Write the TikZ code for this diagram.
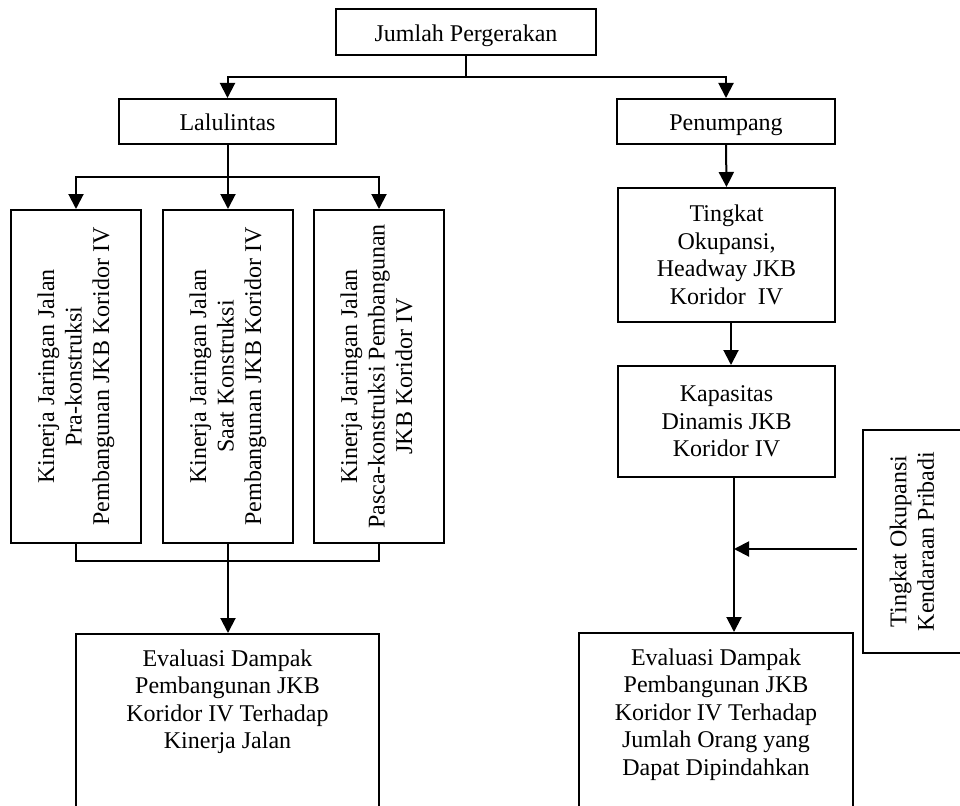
\documentclass[tikz,border=0pt]{standalone}
\usepackage{graphicx}
\usepackage{fontspec}
\setmainfont{Liberation Serif}
\usetikzlibrary{arrows.meta}
\begin{document}
\begin{tikzpicture}[x=1pt,y=-1pt,
  box/.style={draw, line width=2pt, inner sep=0pt, align=center,
    font=\fontsize{24}{27.5}\selectfont},
  txt/.style={inner sep=0pt, align=center, font=\fontsize{24}{27.5}\selectfont},
  conn/.style={line width=2pt},
  arr/.style={conn, -{Triangle[length=15pt,width=15pt]}}]
\useasboundingbox (0,0) rectangle (960,805);
\clip (0,0) rectangle (960,805);

% top level
\node[box, minimum width=260, minimum height=46, text depth=0pt] (top) at (466,32) {\raisebox{-2pt}{Jumlah Pergerakan}};
\node[box, minimum width=217, minimum height=45, text depth=0pt] (lal) at (227.5,121.5) {\raisebox{-2pt}{Lalulintas}};
\node[box, minimum width=218, minimum height=45, text depth=0pt] (pen) at (726,121.5) {\raisebox{-2pt}{Penumpang}};

% three vertical boxes
\node[box, minimum width=130, minimum height=333] (k1) at (76,376.5)
  {\rotatebox{90}{\begin{tabular}{@{}c@{}}Kinerja Jaringan Jalan\\Pra-konstruksi\\Pembangunan JKB Koridor IV\end{tabular}}};
\node[box, minimum width=130, minimum height=333] (k2) at (228,376.5)
  {\rotatebox{90}{\begin{tabular}{@{}c@{}}Kinerja Jaringan Jalan\\Saat Konstruksi\\Pembangunan JKB Koridor IV\end{tabular}}};
\node[box, minimum width=130, minimum height=333] (k3) at (379,376.5)
  {\rotatebox{90}{\begin{tabular}{@{}c@{}}Kinerja Jaringan Jalan\\Pasca-konstruksi Pembangunan\\JKB Koridor IV\end{tabular}}};

% right column
\node[box, minimum width=217, minimum height=134] (ting) at (726.5,255)
  {Tingkat\\Okupansi,\\Headway JKB\\Koridor\ \ IV};
\node[box, minimum width=217, minimum height=111] (kap) at (726.5,421.5)
  {Kapasitas\\Dinamis JKB\\Koridor IV};
\node[box, minimum width=103, minimum height=223] (side) at (914.5,541.5)
  {\rotatebox{90}{\begin{tabular}{@{}c@{}}Tingkat Okupansi\\Kendaraan Pribadi\end{tabular}}};

% bottom boxes (run off the page)
\node[box, minimum width=303, minimum height=220, anchor=north] (evalL) at (227.5,633) {};
\node[txt, anchor=north] (evalLt) at (227.5,649.6)
  {Evaluasi Dampak\\Pembangunan JKB\\Koridor IV Terhadap\\Kinerja Jalan};
\node[box, minimum width=274, minimum height=220, anchor=north] (evalR) at (716,632) {};
\node[txt, anchor=north] (evalRt) at (716,648.6)
  {Evaluasi Dampak\\Pembangunan JKB\\Koridor IV Terhadap\\Jumlah Orang yang\\Dapat Dipindahkan};

% connectors: top
\coordinate (tj) at (466,77);
\draw[conn] (top.south) -- (tj);
\draw[arr] (tj) -| (lal.north);
\draw[arr] (tj) -| (pen.north);

% connectors: lalulintas branch
\coordinate (lj) at (228,177);
\draw[arr] (lal.south -| lj) -- (lj |- k2.north);
\draw[arr] (lj) -| (k1.north);
\draw[arr] (lj) -| (k3.north);

% merge below
\coordinate (bj) at (228,561);
\draw[conn] (k1.south) |- (k3.south |- bj) -- (k3.south);
\draw[conn] (k2.south) -- (bj);
\draw[arr] (bj) -- (evalL.north -| bj);

% right column connectors
\draw[arr] (pen.south) -- (ting.north);
\coordinate (tv) at (731,322);
\draw[arr] (ting.south -| tv) -- (kap.north -| tv);
\coordinate (rv) at (734,477);
\coordinate (mj) at (734,549);
\draw[arr] (kap.south -| rv) -- (evalR.north -| rv);
\draw[arr] ([xshift=-5pt]side.west |- mj) -- (mj);
\end{tikzpicture}
\end{document}
